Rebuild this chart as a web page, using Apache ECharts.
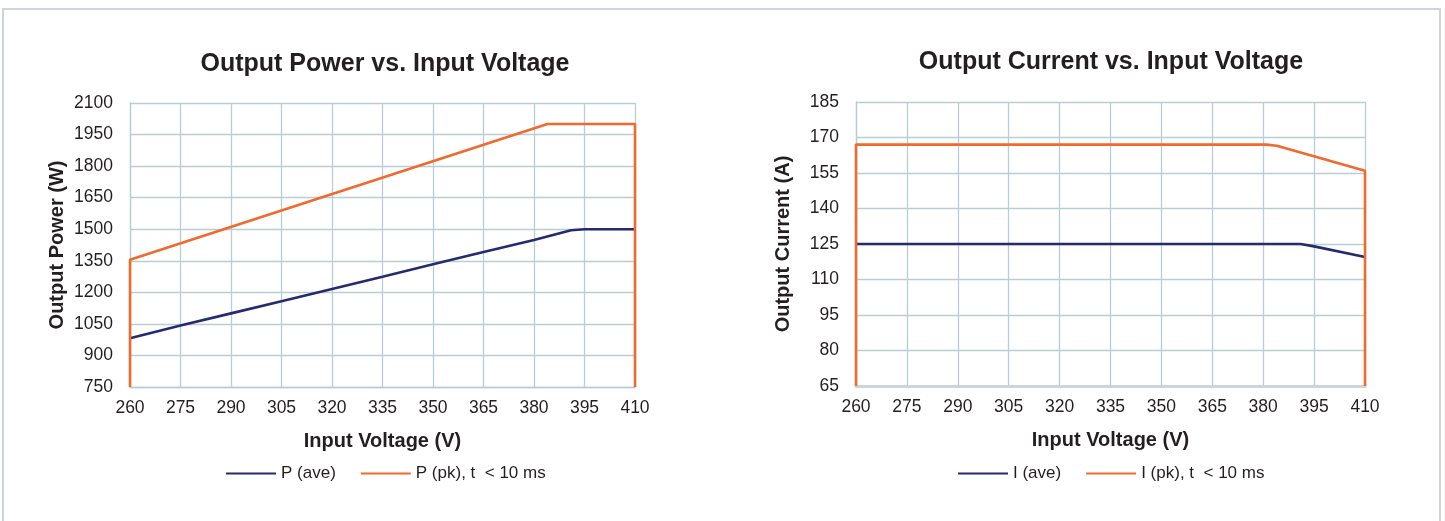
<!DOCTYPE html>
<html>
<head>
<meta charset="utf-8">
<script src="https://cdn.jsdelivr.net/npm/echarts@6/dist/echarts.min.js"></script>
<style>
html,body{margin:0;padding:0;background:#fff;overflow:hidden;}
#frame{position:absolute;left:2px;top:8px;width:1439px;height:560px;border:2px solid #cdd5da;box-sizing:border-box;}
#chart{position:absolute;left:0;top:0;width:1445px;height:521px;}
</style>
</head>
<body>
<div id="frame"></div>
<div id="chart"></div>
<script>
// ---- Data ----
const voltageTicks = [260, 275, 290, 305, 320, 335, 350, 365, 380, 395, 410];
const powerTicks = [750, 900, 1050, 1200, 1350, 1500, 1650, 1800, 1950, 2100];
const currentTicks = [65, 80, 95, 110, 125, 140, 155, 170, 185];

const pAveV = [260, 275, 290, 305, 320, 335, 350, 365, 380, 391, 395, 410];
const pAveW = [982, 1042, 1100, 1158, 1216, 1274, 1333, 1392, 1449, 1495, 1500, 1500];

const pPkV = [260, 260, 384, 410, 410];
const pPkW = [750, 1355, 2000, 2000, 750];

const iAveV = [260, 391, 395, 410];
const iAveA = [125, 125, 124, 119.5];

const iPkV = [260, 260, 381, 384, 410, 410];
const iPkA = [65, 167, 167, 166.5, 156, 65];

const titles = ['Output Power vs. Input Voltage', 'Output Current vs. Input Voltage'];
const names = ['P (ave)', 'P (pk), t  < 10 ms', 'I (ave)', 'I (pk), t  < 10 ms'];

// ---- Build ----
const zip = (a, b) => a.map((v, i) => [v, b[i]]);
const NAVY = '#262a6e', ORANGE = '#ef6a2c', GRID = '#b9ced3', TXT = '#231f20';
const FONT = '"Liberation Sans", Arial, sans-serif';

function xAxisCfg(idx, lineW, lineC) {
  return {
    type: 'value', gridIndex: idx, min: voltageTicks[0], max: voltageTicks[voltageTicks.length - 1],
    interval: voltageTicks[1] - voltageTicks[0],
    name: 'Input Voltage (V)', nameLocation: 'middle', nameGap: 44,
    nameTextStyle: { fontFamily: FONT, fontWeight: 'bold', fontSize: 20, color: TXT },
    axisLine: { show: true, lineStyle: { color: lineC, width: lineW } },
    axisTick: { show: false },
    axisLabel: { fontFamily: FONT, fontSize: 17.5, color: TXT, margin: 12, formatter: v => String(v) },
    splitLine: { show: true, lineStyle: { color: GRID, width: 1.3 } }
  };
}
function yAxisCfg(idx, ticks, name) {
  return {
    type: 'value', gridIndex: idx, min: ticks[0], max: ticks[ticks.length - 1],
    interval: ticks[1] - ticks[0],
    name: name, nameLocation: 'middle', nameGap: 63,
    nameTextStyle: { fontFamily: FONT, fontWeight: 'bold', fontSize: 20, color: TXT },
    axisLine: { show: true, lineStyle: { color: GRID, width: 1.3 } },
    axisTick: { show: false },
    axisLabel: { fontFamily: FONT, fontSize: 17.5, color: TXT, margin: 17, formatter: v => String(v) },
    splitLine: { show: true, lineStyle: { color: GRID, width: 1.3 } }
  };
}
function lineSeries(name, data, color, idx) {
  return {
    name: name, type: 'line', xAxisIndex: idx, yAxisIndex: idx, data: data,
    showSymbol: false, symbol: 'none', animation: false,
    lineStyle: { color: color, width: 2.6 }, itemStyle: { color: color }
  };
}

const legendBase = {
  icon: 'rect', itemWidth: 50, itemHeight: 2, itemGap: 25,
  textStyle: { fontFamily: FONT, fontSize: 17, color: TXT, padding: [0, 0, 0, 0] }
};

const option = {
  animation: false,
  backgroundColor: 'transparent',
  title: [
    { text: titles[0], left: 380, top: 47, textAlign: 'center',
      textStyle: { fontFamily: FONT, fontWeight: 'bold', fontSize: 25, color: TXT } },
    { text: titles[1], left: 1106, top: 45, textAlign: 'center',
      textStyle: { fontFamily: FONT, fontWeight: 'bold', fontSize: 25, color: TXT } }
  ],
  legend: [
    Object.assign({}, legendBase, { data: [names[0], names[1]], left: 221, top: 460 }),
    Object.assign({}, legendBase, { data: [names[2], names[3]], left: 953, top: 460 })
  ],
  grid: [
    { left: 130, top: 103, width: 505, height: 284 },
    { left: 856, top: 102, width: 509, height: 284 }
  ],
  xAxis: [xAxisCfg(0, 1.3, GRID), xAxisCfg(1, 3, '#c6d8dc')],
  yAxis: [yAxisCfg(0, powerTicks, 'Output Power (W)'), yAxisCfg(1, currentTicks, 'Output Current (A)')],
  series: [
    lineSeries(names[0], zip(pAveV, pAveW), NAVY, 0),
    lineSeries(names[1], zip(pPkV, pPkW), ORANGE, 0),
    lineSeries(names[2], zip(iAveV, iAveA), NAVY, 1),
    lineSeries(names[3], zip(iPkV, iPkA), ORANGE, 1)
  ]
};

const chart = echarts.init(document.getElementById('chart'), null, { renderer: 'canvas' });
chart.setOption(option);
</script>
</body>
</html>
